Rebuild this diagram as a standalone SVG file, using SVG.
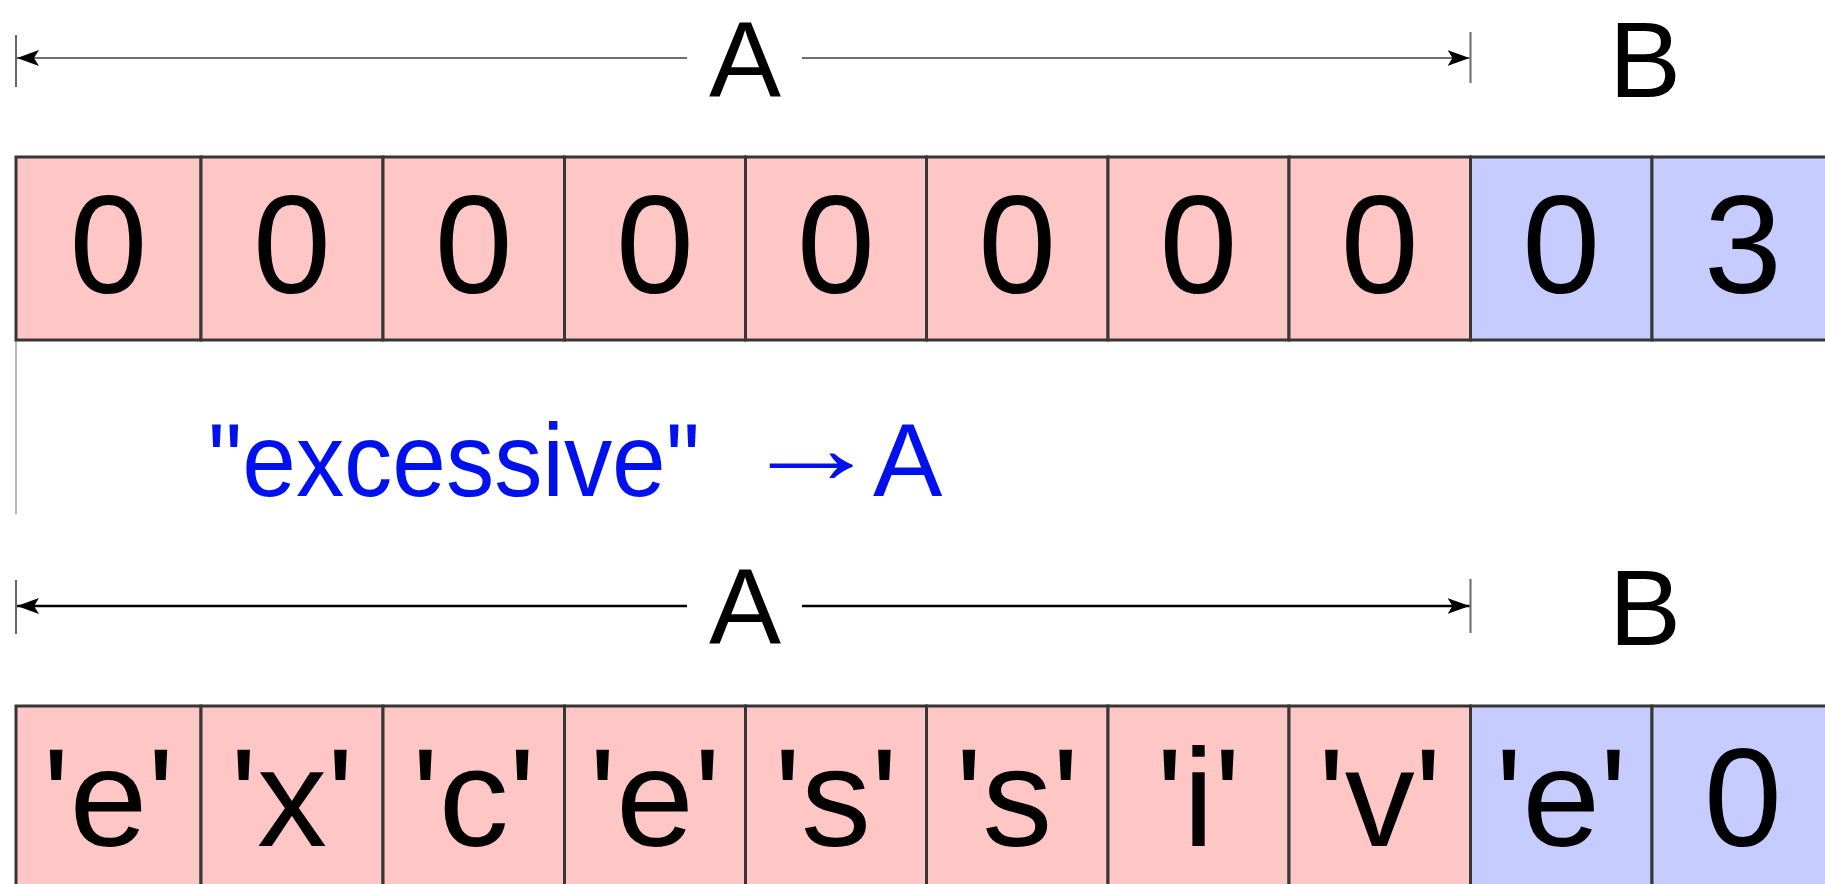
<svg xmlns="http://www.w3.org/2000/svg" width="1825" height="884" viewBox="0 0 1825 884">
<defs>
<style>
.cell{stroke:#363636;stroke-width:3}
.a{fill:#ffc6c6}
.b{fill:#c6ccff}
.t{font-family:"Liberation Sans",Arial,sans-serif;font-size:140px;fill:#000;text-anchor:middle}
.lbl{font-family:"Liberation Sans",Arial,sans-serif;font-size:108px;fill:#000;text-anchor:middle}
.tick{stroke:#666;stroke-width:2}
.dim1{stroke:#707070;stroke-width:2;fill:none}
.dim2{stroke:#000;stroke-width:2.5;fill:none}
.blue{font-family:"Liberation Sans",Arial,sans-serif;font-size:104px;fill:#0011ee}
</style>
<marker id="ah" viewBox="0 0 22 16" refX="22" refY="8" markerWidth="22" markerHeight="16" markerUnits="userSpaceOnUse" orient="auto-start-reverse">
<path d="M0,0 L22,8 L0,16 L5,8 Z" fill="#000"/>
</marker>
</defs>
<rect width="1825" height="884" fill="#fff"/>

<g id="connectors">
<line class="tick" x1="16" y1="35" x2="16" y2="87"/>
<line class="tick" x1="1470.5" y1="32" x2="1470.5" y2="83"/>
<line class="dim1" x1="17" y1="58" x2="687" y2="58" marker-start="url(#ah)"/>
<line class="dim1" x1="802" y1="58" x2="1469.5" y2="58" marker-end="url(#ah)"/>
<line class="tick" x1="16" y1="580" x2="16" y2="634"/>
<line class="tick" x1="1470.5" y1="579" x2="1470.5" y2="633"/>
<line class="dim2" x1="17" y1="606" x2="687" y2="606" marker-start="url(#ah)"/>
<line class="dim2" x1="802" y1="606" x2="1469.5" y2="606" marker-end="url(#ah)"/>
<line x1="16" y1="341" x2="16" y2="514" stroke="#bbb" stroke-width="2"/>
</g>

<g id="label-A1"><text class="lbl" x="745" y="97">A</text></g>
<g id="label-B1"><text class="lbl" x="1645" y="97">B</text></g>
<g id="label-A2"><text class="lbl" x="745" y="644">A</text></g>
<g id="label-B2"><text class="lbl" x="1645" y="645">B</text></g>

<g id="row1">
<g id="r1c1"><rect class="cell a" x="16" y="157" width="185" height="183"/><text class="t" x="108.5" y="293">0</text></g>
<g id="r1c2"><rect class="cell a" x="201" y="157" width="182" height="183"/><text class="t" x="292" y="293">0</text></g>
<g id="r1c3"><rect class="cell a" x="383" y="157" width="181.5" height="183"/><text class="t" x="473.7" y="293">0</text></g>
<g id="r1c4"><rect class="cell a" x="564.5" y="157" width="181" height="183"/><text class="t" x="655" y="293">0</text></g>
<g id="r1c5"><rect class="cell a" x="745.5" y="157" width="181" height="183"/><text class="t" x="836" y="293">0</text></g>
<g id="r1c6"><rect class="cell a" x="926.5" y="157" width="181.5" height="183"/><text class="t" x="1017.2" y="293">0</text></g>
<g id="r1c7"><rect class="cell a" x="1108" y="157" width="181" height="183"/><text class="t" x="1198.5" y="293">0</text></g>
<g id="r1c8"><rect class="cell a" x="1289" y="157" width="181.5" height="183"/><text class="t" x="1379.7" y="293">0</text></g>
<g id="r1c9"><rect class="cell b" x="1470.5" y="157" width="181.5" height="183"/><text class="t" x="1561.2" y="293">0</text></g>
<g id="r1c10"><rect class="cell b" x="1652" y="157" width="182" height="183"/><text class="t" x="1743" y="293">3</text></g>
</g>

<g id="note">
<text class="blue" x="208" y="496" textLength="492" lengthAdjust="spacingAndGlyphs">"excessive"</text>
<text class="blue" x="741" y="483" textLength="140" lengthAdjust="spacingAndGlyphs">→</text>
<text class="blue" x="873" y="496">A</text>
</g>

<g id="row2">
<g id="r2c1"><rect class="cell a" x="16" y="706" width="185" height="200"/><text class="t" x="108.5" y="846">'e'</text></g>
<g id="r2c2"><rect class="cell a" x="201" y="706" width="182" height="200"/><text class="t" x="292" y="846">'x'</text></g>
<g id="r2c3"><rect class="cell a" x="383" y="706" width="181.5" height="200"/><text class="t" x="473.7" y="846">'c'</text></g>
<g id="r2c4"><rect class="cell a" x="564.5" y="706" width="181" height="200"/><text class="t" x="655" y="846">'e'</text></g>
<g id="r2c5"><rect class="cell a" x="745.5" y="706" width="181" height="200"/><text class="t" x="836" y="846">'s'</text></g>
<g id="r2c6"><rect class="cell a" x="926.5" y="706" width="181.5" height="200"/><text class="t" x="1017.2" y="846">'s'</text></g>
<g id="r2c7"><rect class="cell a" x="1108" y="706" width="181" height="200"/><text class="t" x="1198.5" y="846">'i'</text></g>
<g id="r2c8"><rect class="cell a" x="1289" y="706" width="181.5" height="200"/><text class="t" x="1379.7" y="846">'v'</text></g>
<g id="r2c9"><rect class="cell b" x="1470.5" y="706" width="181.5" height="200"/><text class="t" x="1561.2" y="846">'e'</text></g>
<g id="r2c10"><rect class="cell b" x="1652" y="706" width="182" height="200"/><text class="t" x="1743" y="846">0</text></g>
</g>
</svg>
